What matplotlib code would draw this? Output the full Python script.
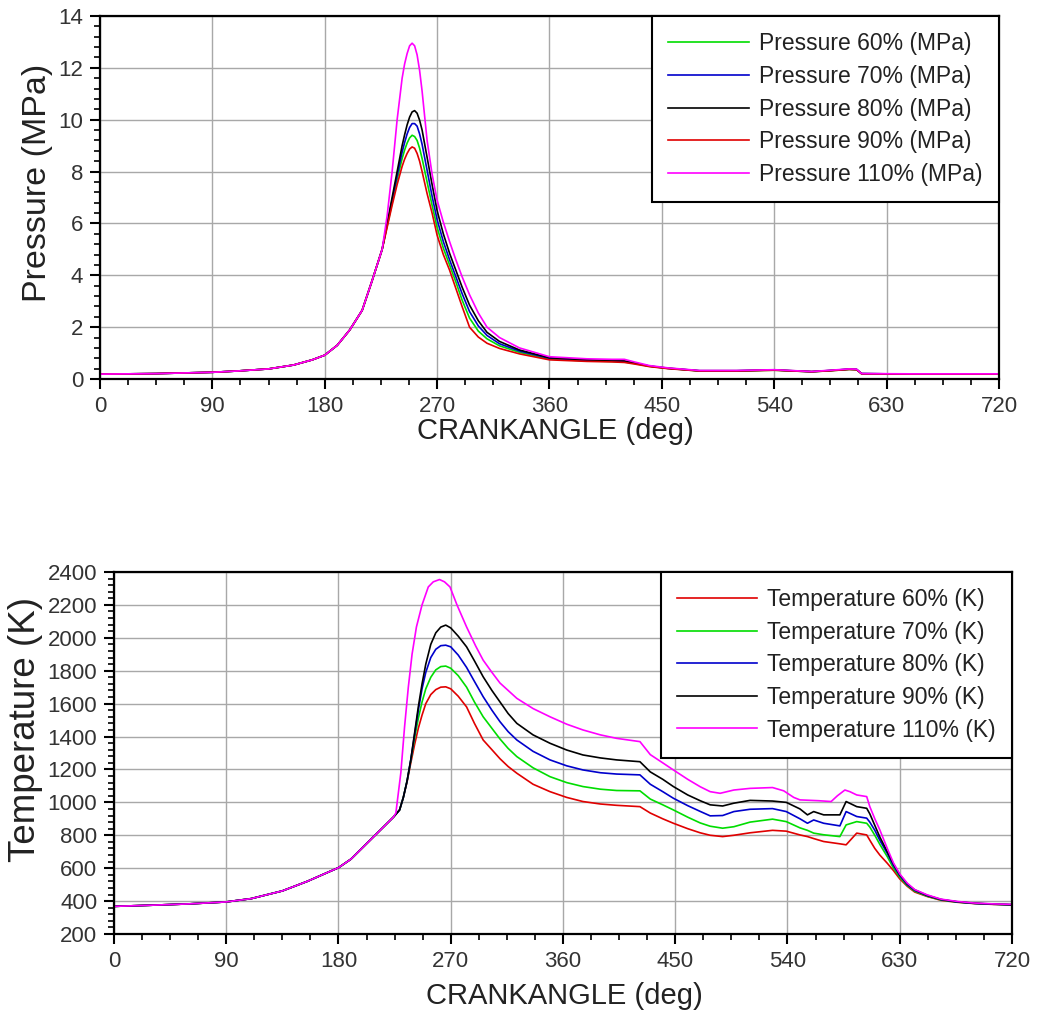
import matplotlib
matplotlib.use("Agg")
import matplotlib.pyplot as plt
from matplotlib.ticker import AutoMinorLocator

plt.rcParams['font.family'] = ['Liberation Sans', 'DejaVu Sans']

# ---------------- Pressure data (MPa) ----------------
p_common_ang = [0, 45, 90, 110, 135, 155, 170, 180, 190, 200, 210, 218, 226]
p_common_val = [0.19, 0.21, 0.26, 0.31, 0.39, 0.54, 0.74, 0.92, 1.30, 1.89, 2.65, 3.80, 5.00]

p_ang = [230, 234, 238, 242, 244, 246, 248, 250, 252, 254, 256, 258, 262, 266, 270, 275, 280, 285, 290,
         296, 303, 310, 320, 336, 360, 390, 410, 420, 428, 440, 455, 480, 510, 540,
         570, 585, 600, 606, 610, 650, 720]

p_60 = [5.90, 6.80, 7.70, 8.50, 8.83, 9.10, 9.30, 9.40, 9.35, 9.20, 8.90, 8.50, 7.60, 6.70, 5.85, 5.05, 4.40, 3.75, 3.05,
        2.35, 1.85, 1.55, 1.28, 1.03, 0.77, 0.70, 0.68, 0.66, 0.60, 0.49, 0.41, 0.31, 0.31, 0.34,
        0.28, 0.32, 0.37, 0.36, 0.20, 0.19, 0.19]
p_70 = [5.95, 6.90, 7.85, 8.75, 9.12, 9.45, 9.70, 9.85, 9.85, 9.75, 9.45, 9.05, 8.05, 7.05, 6.15, 5.30, 4.60, 3.95, 3.30,
        2.60, 2.05, 1.68, 1.36, 1.08, 0.80, 0.72, 0.70, 0.68, 0.61, 0.50, 0.41, 0.32, 0.32, 0.35,
        0.28, 0.33, 0.38, 0.37, 0.21, 0.19, 0.19]
p_80 = [6.00, 7.00, 8.00, 9.00, 9.42, 9.80, 10.10, 10.30, 10.35, 10.25, 9.98, 9.60, 8.55, 7.50, 6.50, 5.60, 4.85, 4.20, 3.55,
        2.85, 2.25, 1.80, 1.45, 1.12, 0.82, 0.74, 0.71, 0.70, 0.62, 0.50, 0.42, 0.32, 0.32, 0.35,
        0.29, 0.33, 0.38, 0.37, 0.21, 0.19, 0.19]
p_90 = [5.85, 6.70, 7.50, 8.20, 8.48, 8.70, 8.87, 8.95, 8.90, 8.70, 8.40, 8.00, 7.15, 6.40, 5.55, 4.80, 4.20, 3.50, 2.80,
        2.00, 1.62, 1.38, 1.18, 0.97, 0.74, 0.68, 0.66, 0.64, 0.58, 0.48, 0.40, 0.31, 0.31, 0.34,
        0.28, 0.32, 0.37, 0.36, 0.20, 0.19, 0.19]
p_110 = [6.30, 8.00, 10.00, 11.60, 12.15, 12.55, 12.85, 12.95, 12.85, 12.50, 11.90, 11.10, 9.20, 7.90, 6.90, 6.05, 5.30, 4.60, 3.95,
         3.25, 2.55, 2.00, 1.60, 1.20, 0.86, 0.78, 0.76, 0.76, 0.66, 0.52, 0.43, 0.33, 0.33, 0.36,
         0.29, 0.34, 0.39, 0.38, 0.21, 0.20, 0.20]

p_labels = ["Pressure 60% (MPa)", "Pressure 70% (MPa)", "Pressure 80% (MPa)",
            "Pressure 90% (MPa)", "Pressure 110% (MPa)"]
p_colors = ["#00dd00", "#0000cc", "#000000", "#e00000", "#ff00ff"]

# ---------------- Temperature data (K) ----------------
t_common_ang = [0, 30, 60, 90, 110, 135, 155, 170, 180, 190, 200, 210, 218, 224]
t_common_val = [368, 375, 383, 395, 415, 462, 520, 570, 603, 655, 730, 805, 865, 910]

t_ang = [229, 232, 235, 238, 241, 244, 247, 250, 254, 258, 262, 266, 270, 276, 282.7, 289, 296,
         303, 309.5, 316, 323, 336, 349.6, 363, 376, 390, 403, 421.7, 430, 440, 448.5, 460, 470,
         478, 488, 497, 510, 528, 539, 550, 556, 561, 569, 582, 587, 595.5, 603.5, 606, 610, 614,
         620, 625, 630, 636, 642, 652, 663, 676, 690, 705, 720]

t_60 = [954, 1030, 1125, 1240, 1350, 1450, 1530, 1600, 1655, 1685, 1700, 1702, 1690, 1645, 1580,
        1480, 1379, 1320, 1265, 1218, 1177, 1110, 1065, 1030, 1005, 990, 982, 974, 935, 900, 873,
        840, 815, 800, 792, 800, 815, 830, 825, 802, 792, 780, 762, 748, 742, 813, 802, 770, 720,
        680, 630, 585, 535, 490, 455, 428, 405, 393, 385, 380, 377]
t_70 = [954, 1030, 1130, 1255, 1390, 1510, 1610, 1690, 1760, 1805, 1825, 1828, 1815, 1770, 1700,
        1610, 1520, 1450, 1385, 1328, 1278, 1210, 1156, 1120, 1096, 1080, 1072, 1070, 1020, 985,
        954, 910, 875, 855, 843, 852, 880, 898, 883, 845, 830, 813, 803, 792, 863, 883, 873, 850,
        800, 745, 670, 600, 545, 495, 460, 430, 407, 394, 386, 381, 378]
t_80 = [954, 1030, 1130, 1260, 1410, 1560, 1690, 1790, 1880, 1930, 1952, 1955, 1945, 1895, 1820,
        1735, 1642, 1560, 1490, 1430, 1379, 1310, 1258, 1222, 1197, 1180, 1172, 1167, 1110, 1065,
        1025, 980, 945, 918, 920, 944, 958, 962, 944, 900, 873, 893, 873, 857, 944, 914, 904, 880,
        830, 770, 690, 615, 555, 500, 465, 433, 409, 395, 386, 381, 378]
t_90 = [954, 1030, 1130, 1260, 1420, 1580, 1720, 1840, 1960, 2030, 2065, 2077, 2060, 2010, 1945,
        1860, 1763, 1680, 1610, 1540, 1480, 1410, 1359, 1318, 1288, 1270, 1258, 1247, 1185, 1140,
        1096, 1045, 1010, 985, 978, 995, 1012, 1008, 1000, 960, 924, 944, 924, 924, 1005, 974, 964,
        930, 860, 790, 700, 625, 560, 505, 468, 435, 410, 396, 387, 382, 378]
t_110_ang = [226, 230, 233, 236, 239, 242.5, 247, 252, 256, 261, 265, 269.4, 275, 282.7, 290, 296,
             303, 309.5, 323, 336, 349.6, 363, 376, 390, 403, 421.7, 430, 440, 448.5, 460, 470,
             478, 486, 497, 510, 528, 537, 545, 550, 565, 575, 580, 586, 590, 595.5, 603.5, 606,
             610, 614, 620, 625, 630, 636, 642, 652, 663, 676, 690, 705, 720]
t_110 = [935, 1180, 1460, 1700, 1900, 2066, 2200, 2309, 2340, 2354, 2340, 2309, 2200, 2066, 1950,
         1864, 1790, 1725, 1632, 1570, 1520, 1475, 1440, 1410, 1389, 1369, 1290, 1240, 1197, 1140,
         1095, 1065, 1055, 1075, 1085, 1090, 1070, 1030, 1015, 1010, 1005, 1040, 1075, 1065, 1045,
         1035, 974, 900, 833, 720, 631, 565, 509, 470, 438, 412, 398, 388, 383, 380]

t_labels = ["Temperature 60% (K)", "Temperature 70% (K)", "Temperature 80% (K)",
            "Temperature 90% (K)", "Temperature 110% (K)"]
t_colors = ["#e00000", "#00dd00", "#0000cc", "#000000", "#ff00ff"]

x_ticks = [0, 90, 180, 270, 360, 450, 540, 630, 720]

fig = plt.figure(figsize=(10.37, 10.17), dpi=100)
ax1 = fig.add_axes([0.0964, 0.6273, 0.8669, 0.3570])
ax2 = fig.add_axes([0.1099, 0.0816, 0.8660, 0.3560])

def style(ax):
    ax.set_xlim(0, 720)
    ax.set_xticks(x_ticks)
    ax.xaxis.set_minor_locator(AutoMinorLocator(4))
    ax.yaxis.set_minor_locator(AutoMinorLocator(5))
    ax.grid(True, which='major', color='#a8a8a8', linewidth=1.0)
    ax.set_axisbelow(True)
    for s in ax.spines.values():
        s.set_color('black')
        s.set_linewidth(1.6)
    ax.tick_params(which='major', direction='out', length=7, width=1.5,
                   labelsize=16, labelcolor='#333333', pad=5)
    ax.tick_params(which='minor', direction='out', length=4, width=1.2)

def style_legend(leg):
    leg.get_frame().set_linewidth(1.5)
    leg.get_frame().set_alpha(1)
    for t in leg.get_texts():
        t.set_color('#222222')

# Pressure
p_series = [p_60, p_70, p_80, p_90, p_110]
for vals, lab, col in zip(p_series, p_labels, p_colors):
    ax1.plot(p_common_ang + p_ang, p_common_val + vals, color=col, lw=1.2, label=lab)
style(ax1)
ax1.set_ylim(0, 14)
ax1.set_yticks(range(0, 15, 2))
ax1.set_xlabel("CRANKANGLE (deg)", fontsize=21, color='#222222')
ax1.set_ylabel("Pressure (MPa)", fontsize=24.5, color='#222222')
ax1.xaxis.set_label_coords(0.507, -0.143)
ax1.xaxis.label.set_va('center')
ax1.yaxis.set_label_coords(-0.069, 0.54)
ax1.yaxis.label.set_va('center')
leg1 = ax1.legend(loc='upper right', fontsize=16.5, frameon=True, fancybox=False,
                  edgecolor='black', borderaxespad=0, handlelength=3.5,
                  handletextpad=0.45, labelspacing=0.42, borderpad=0.72)
style_legend(leg1)

# Temperature
t_series = [(t_ang, t_60), (t_ang, t_70), (t_ang, t_80), (t_ang, t_90), (t_110_ang, t_110)]
for (ang, vals), lab, col in zip(t_series, t_labels, t_colors):
    if ang is t_110_ang:
        a = [v for v in t_common_ang if v < 226] + ang
        v = [t for a0, t in zip(t_common_ang, t_common_val) if a0 < 226] + vals
    else:
        a = t_common_ang + ang
        v = t_common_val + vals
    ax2.plot(a, v, color=col, lw=1.2, label=lab)
style(ax2)
ax2.set_ylim(200, 2400)
ax2.set_yticks(range(200, 2401, 200))
ax2.set_xlabel("CRANKANGLE (deg)", fontsize=21, color='#222222')
ax2.set_ylabel("Temperature (K)", fontsize=26.5, color='#222222')
ax2.xaxis.set_label_coords(0.502, -0.17)
ax2.xaxis.label.set_va('center')
ax2.yaxis.set_label_coords(-0.099, 0.566)
ax2.yaxis.label.set_va('center')
leg2 = ax2.legend(loc='upper right', fontsize=16.5, frameon=True, fancybox=False,
                  edgecolor='black', borderaxespad=0, handlelength=3.5,
                  handletextpad=0.45, labelspacing=0.42, borderpad=0.7)
style_legend(leg2)

fig.savefig("out.png", dpi=100)
